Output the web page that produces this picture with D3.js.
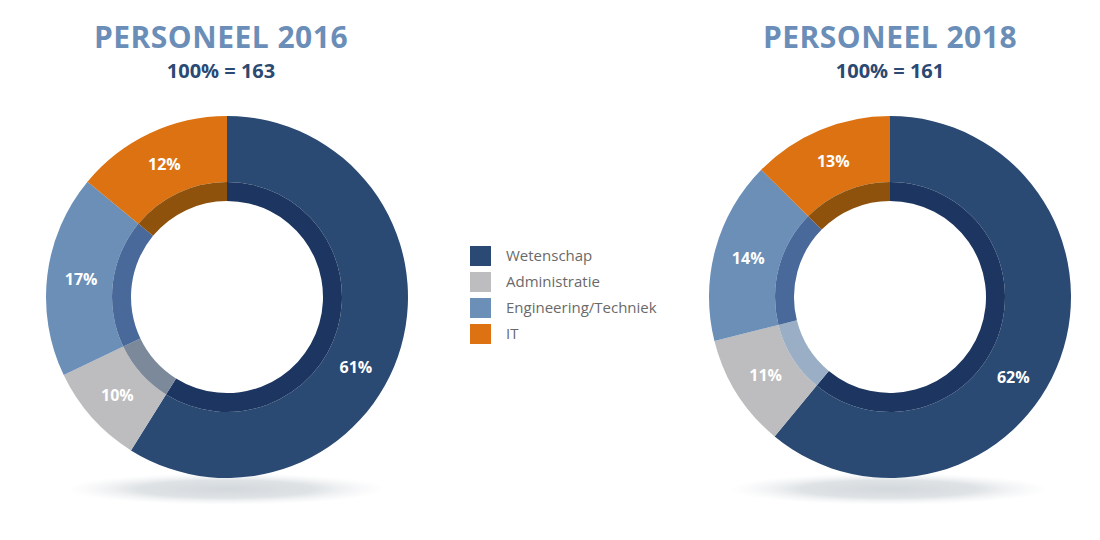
<!DOCTYPE html>
<html>
<head>
<meta charset="utf-8">
<script src="https://cdn.jsdelivr.net/npm/d3@7"></script>
<style>
  html, body { margin: 0; padding: 0; background: #ffffff; }
  svg { display: block; font-family: "Open Sans", "Noto Sans", sans-serif; }
</style>
</head>
<body>
<svg id="chart" width="1100" height="540"></svg>
<script>
// ---- data ----
const categories = ["Wetenschap", "Administratie", "Engineering/Techniek", "IT"];
const years = ["2016", "2018"];
const totals = [163, 161];
// share of the ring each slice covers, as drawn
const shares2016 = [58.9, 9.0, 18.1, 14.0];
const shares2018 = [61.0, 10.1, 16.3, 12.6];
// printed percentage labels
const labels2016 = ["61%", "10%", "17%", "12%"];
const labels2018 = ["62%", "11%", "14%", "13%"];

// ---- styles ----
const colors = ["#2a4a73", "#bdbcbe", "#6b8fb7", "#dc7212"];
const innerColors = {
  "2016": ["#1d3661", "#7b899b", "#48699a", "#8e520d"],
  "2018": ["#1d3661", "#9aaec6", "#48699a", "#8e520d"]
};

const svg = d3.select("#chart");

const color = d3.scaleOrdinal().domain(categories).range(colors);

const defs = svg.append("defs");
const grad = defs.append("radialGradient").attr("id", "shadowGrad")
  .attr("cx", "50%").attr("cy", "50%").attr("r", "50%");
grad.append("stop").attr("offset", "0%").attr("stop-color", "#d3d8dc").attr("stop-opacity", 1);
grad.append("stop").attr("offset", "55%").attr("stop-color", "#dde1e4").attr("stop-opacity", 0.95);
grad.append("stop").attr("offset", "100%").attr("stop-color", "#eef0f2").attr("stop-opacity", 0);

const pie = d3.pie().sort(null).value(d => d.value);
const rOuter = 181, rMid = 115, rInner = 96, rLabel = 147;
const arcOuter = d3.arc().innerRadius(rMid).outerRadius(rOuter);
const arcInner = d3.arc().innerRadius(rInner).outerRadius(rMid);

// label anchor: centroid for normal slices, pushed a bit further along for the dominant slice
function labelPos(d) {
  const frac = (d.endAngle - d.startAngle) > Math.PI ? 0.56 : 0.5;
  const a = d.startAngle + (d.endAngle - d.startAngle) * frac;
  return [Math.sin(a) * rLabel, -Math.cos(a) * rLabel];
}

const centersX = [227, 890];
const titleXs = [221, 890];
const cy = 297;

const datasets = [
  { year: years[0], total: totals[0], shares: shares2016, labels: labels2016 },
  { year: years[1], total: totals[1], shares: shares2018, labels: labels2018 }
];

datasets.forEach((ds, k) => {
  const cx = centersX[k];
  const data = categories.map((c, i) => ({ cat: c, value: ds.shares[i], label: ds.labels[i], idx: i }));
  const arcs = pie(data);

  // shadow
  svg.append("ellipse")
    .attr("cx", cx - 1).attr("cy", 489)
    .attr("rx", 160).attr("ry", 16)
    .attr("fill", "url(#shadowGrad)");

  // titles
  const titleX = titleXs[k];
  svg.append("text")
    .attr("x", titleX).attr("y", 48)
    .attr("text-anchor", "middle")
    .attr("font-size", 30).attr("font-weight", 700)
    .attr("letter-spacing", 0.5)
    .attr("fill", "#6b8eb8")
    .text("PERSONEEL " + ds.year);
  svg.append("text")
    .attr("x", titleX).attr("y", 78)
    .attr("text-anchor", "middle")
    .attr("font-size", 20).attr("font-weight", 700)
    .attr("fill", "#2a4a73")
    .text("100% = " + ds.total);

  const g = svg.append("g").attr("transform", `translate(${cx},${cy})`);

  g.selectAll("path.outer").data(arcs).join("path")
    .attr("class", "outer")
    .attr("d", arcOuter)
    .attr("fill", d => color(d.data.cat));

  g.selectAll("path.inner").data(arcs).join("path")
    .attr("class", "inner")
    .attr("d", arcInner)
    .attr("fill", d => innerColors[ds.year][d.data.idx]);

  g.selectAll("text.lbl").data(arcs).join("text")
    .attr("class", "lbl")
    .attr("transform", d => `translate(${labelPos(d)})`)
    .attr("text-anchor", "middle")
    .attr("dy", "0.36em")
    .attr("font-size", 16).attr("font-weight", 700)
    .attr("fill", "#ffffff")
    .text(d => d.data.label);
});

// legend
const legend = svg.append("g").attr("transform", "translate(470,246)");
const rowH = 26;
const items = legend.selectAll("g").data(categories).join("g")
  .attr("transform", (d, i) => `translate(0,${i * rowH})`);
items.append("rect")
  .attr("width", 21).attr("height", 20)
  .attr("fill", d => color(d));
items.append("text")
  .attr("x", 36).attr("y", 10).attr("dy", "0.35em")
  .attr("font-size", 15)
  .attr("fill", "#6a6a6a")
  .text(d => d);
</script>
</body>
</html>
